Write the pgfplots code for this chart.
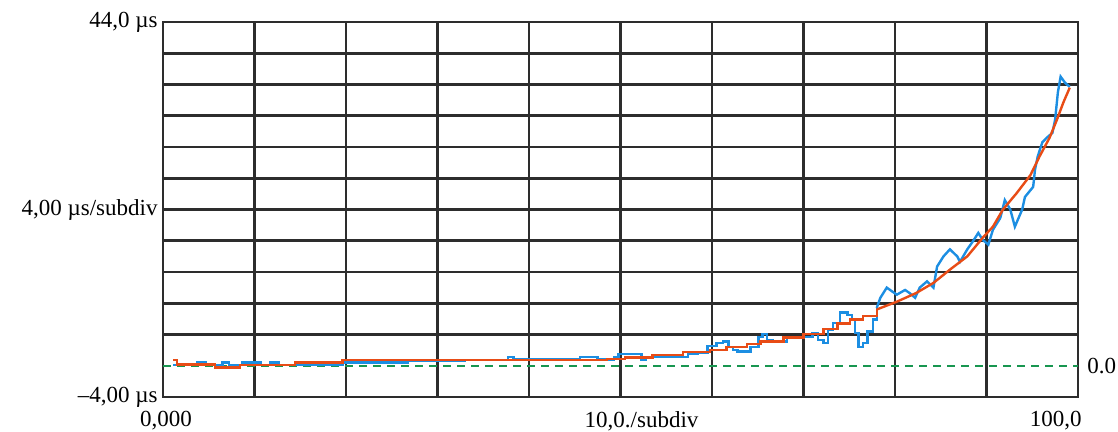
\documentclass[border=0pt]{standalone}
\usepackage{fontspec}
\setmainfont{Liberation Serif}
\usepackage{pgfplots}
\pgfplotsset{compat=1.18}
\definecolor{gridc}{RGB}{45,45,45}
\definecolor{blueC}{RGB}{28,142,226}
\definecolor{orangeC}{RGB}{232,76,22}
\definecolor{greenC}{RGB}{24,150,80}
\begin{document}
\fontsize{11.5}{13}\selectfont
\begin{tikzpicture}
\begin{axis}[
 scale only axis, width=457.5pt, height=187.5pt,
 xmin=0,xmax=100,ymin=-4,ymax=44,
 xtick={0,10,...,100}, ytick={-4,4,8,...,44},
 xticklabels={},
 yticklabels={{–4,00 µs},{},{},{},{},{4,00 µs/subdiv},{},{},{},{},{},{44,0 µs}},
 grid=major, major grid style={gridc, line width=1.3pt},
 axis line style={gridc, line width=1.3pt},
 major tick length=0pt,
 tick label style={font=\fontsize{11.5}{13}\selectfont},
 yticklabel style={anchor=east, inner sep=0pt, xshift=-2.5pt},
 clip=false,
]
\addplot[greenC, line width=1.1pt, dash pattern=on 4pt off 3pt] coordinates {(0,0) (100,0)};
\addplot[blueC, line width=1.2pt, const plot] coordinates {
(1.1,0.1)(3.7,0.4)(4.7,0.1)(6.5,0.4)(7.2,0.1)(8.7,0.4)(10.7,0.1)(11.7,0.4)(12.7,0.1)(14.5,0.1)
(19.6,0.4)(26.7,0.6)(33,0.7)(37.7,1.15)(38.3,0.8)(45.6,1.1)(47.5,0.8)(49.3,1.1)(49.8,1.5)(51.4,1.5)
(52.3,0.7)(52.8,1.15)(57.4,1.5)(58.5,1.6)(59.5,2.5)(60.5,2.9)(61.2,3.1)(61.8,2.4)(62.3,2.05)(62.8,1.8)
(63.8,1.8)(64.2,2.4)(65.1,3.7)(65.5,4.1)(66.0,3.3)(66.6,3.1)(67.8,3.1)(68.2,3.6)(69.3,3.7)(70.0,3.7)
(71.0,4.2)(71.6,3.3)(72.2,2.9)(72.7,4.6)(73.2,5.5)(74.0,6.8)(74.8,6.5)(75.3,5.9)(75.6,4.2)(76.0,2.4)
(76.5,2.9)(77.0,4.4)(77.6,5.9)(78.0,7.4)
};
\addplot[blueC, line width=1.2pt] coordinates {
(78.0,7.4)(78.4,8.7)(79.1,10)(79.7,9.5)(80.2,9.1)(81.1,9.7)(81.6,9.3)
(82.2,8.7)(82.7,10)(83.5,10.8)(84.2,10)(84.6,12.7)(85.3,14)(86.0,14.9)(86.8,14)(87.1,13.3)(87.9,14.9)
(88.5,15.9)(89.1,17)(89.6,16.1)(90.2,15.5)(90.7,17.4)(91.5,18.9)(92.0,21.2)(92.6,20)(93.1,17.8)(93.9,20)
(94.2,21.6)(95.1,22.9)(95.3,25.1)(95.6,26.8)(96.1,28.6)(96.6,29.2)(97.2,29.8)(97.5,31.5)(97.8,35)(98.1,37)
(98.6,36.2)(99.1,35.7)
};
\addplot[orangeC, line width=1.2pt, const plot] coordinates {
(1.1,0.7)(1.5,0.15)(5.7,-0.25)(8.4,0.1)(14.4,0.4)(19.6,0.77)(48.5,0.85)(50.5,1.06)(53.5,1.4)(56.8,1.75)
(59.8,2.05)(61.6,2.4)(63.8,2.8)(65.3,3.1)(67.8,3.6)(70.0,4.1)(72.2,4.7)(73.7,5.4)(75.1,5.9)(76.5,6.4)
(78.0,7.2)
};
\addplot[orangeC, line width=1.2pt] coordinates {
(78.0,7.2)(80.2,8.2)(82.3,9.3)(84.2,10.6)(86.0,12.3)(87.9,14.0)(89.6,16.4)(90.7,17.8)(91.8,20.0)(93.3,22.1)
(94.8,24.4)(95.8,26.8)(96.9,29.2)(97.7,31.5)(98.4,33.7)(99.1,35.6)
};
\node[anchor=north, inner sep=0pt, yshift=-7pt, xshift=1.5pt] at (axis cs:0,-4) {0,000};
\node[anchor=north, inner sep=0pt, yshift=-7pt] at (axis cs:52.3,-4) {10,0./subdiv};
\node[anchor=north east, inner sep=0pt, yshift=-7pt, xshift=2pt] at (axis cs:100,-4) {100,0};
\node[anchor=west, inner sep=0pt, xshift=4.5pt] at (axis cs:100,0) {0.0};
\end{axis}
\pgfresetboundingbox
\path (current axis.south west) ++(-81.5pt,-17.5pt) rectangle ++(559pt,216pt);
\end{tikzpicture}
\end{document}
